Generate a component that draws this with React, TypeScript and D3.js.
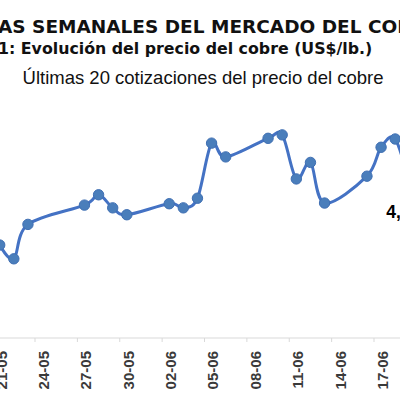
import React from "react";
import * as d3 from "d3";

const titleLine1 = "AS SEMANALES DEL MERCADO DEL COBRE";
const titleLine2 = "1: Evolución del precio del cobre (US$/lb.)";
const subtitle = "Últimas 20 cotizaciones del precio del cobre";

const dates = [
  "2025-05-21", "2025-05-22", "2025-05-23",
  "2025-05-27", "2025-05-28", "2025-05-29", "2025-05-30",
  "2025-06-02", "2025-06-03", "2025-06-04", "2025-06-05", "2025-06-06",
  "2025-06-09", "2025-06-10", "2025-06-11", "2025-06-12", "2025-06-13",
  "2025-06-16", "2025-06-17", "2025-06-18", "2025-06-19",
];
const prices = [
  4.285, 4.265, 4.315,
  4.343, 4.358, 4.339, 4.329,
  4.345, 4.339, 4.353, 4.433, 4.413,
  4.440, 4.445, 4.381, 4.405, 4.346,
  4.385, 4.427, 4.439, 4.372,
];
const tickLabels = ["21-05", "24-05", "27-05", "30-05", "02-06", "05-06", "08-06", "11-06", "14-06", "17-06", "20-06"];

const W = 400;
const H = 398;
const parse = d3.utcParse("%Y-%m-%d");
const DAY = 14.125;

export default function App() {
  const data = dates.map((d, i) => ({ date: parse(d) as Date, value: prices[i] }));
  const d0 = parse("2025-05-21") as Date;
  const d1 = parse("2025-06-18") as Date;
  const x = d3.scaleUtc().domain([d0, d1]).range([-0.3, -0.3 + 28 * DAY]);
  const y = d3.scaleLinear().domain([4.15, 4.5]).range([338, 97]);
  const line = d3
    .line<{ date: Date; value: number }>()
    .x((d) => x(d.date))
    .y((d) => y(d.value))
    .curve(d3.curveCatmullRom.alpha(0));
  const tickDates = tickLabels.map((t) => {
    const [dd, mm] = t.split("-");
    return parse(`2025-${mm}-${dd}`) as Date;
  });
  const last = data[data.length - 1];
  const fmt = (v: number) => v.toFixed(2).replace(".", ",");
  const axisY = 338;
  const blue = "#4472c4";

  return (
    <svg
      width={W}
      height={H}
      style={{ position: "fixed", left: 0, top: 0, background: "#fff" }}
      fontFamily="'DejaVu Sans', Verdana, sans-serif"
    >
      <rect x={0} y={0} width={W} height={H} fill="#fff" />
      <text x={-2} y={33} fontSize={18.5} fontWeight="bold" fill="#111">
        {titleLine1}
      </text>
      <text x={-2} y={54} fontSize={15.8} fontWeight="bold" fill="#111">
        {titleLine2}
      </text>
      <text
        x={203}
        y={84}
        fontSize={18.5}
        textAnchor="middle"
        fill="#111"
        fontFamily="'Liberation Sans', Arial, sans-serif"
      >
        {subtitle}
      </text>

      <line x1={0} x2={W} y1={axisY} y2={axisY} stroke="#d9d9d9" strokeWidth={1} />
      {tickDates.map((d, i) => (
        <g key={i}>
          <line
            x1={x(d) - DAY / 2}
            x2={x(d) - DAY / 2}
            y1={axisY}
            y2={axisY + 4}
            stroke="#d9d9d9"
          />
          <text
            transform={`translate(${x(d) + 1.5},${axisY + 13}) rotate(-90)`}
            textAnchor="end"
            dy="0.36em"
            fontSize={15}
            fontWeight="bold"
            fill="#3a3a3a"
            fontFamily="'Liberation Sans', Arial, sans-serif"
          >
            {tickLabels[i]}
          </text>
        </g>
      ))}

      <path d={line(data) || ""} fill="none" stroke={blue} strokeWidth={3} />
      {data.map((d, i) => (
        <circle
          key={i}
          cx={x(d.date)}
          cy={y(d.value)}
          r={5.2}
          fill="#4a7ebb"
          stroke="#3f6fb3"
          strokeWidth={1}
        />
      ))}
      <text
        x={x(last.date) - 23}
        y={218}
        fontSize={17.5}
        fontWeight="bold"
        fill="#000"
        fontFamily="'Liberation Sans', Arial, sans-serif"
      >
        {fmt(last.value)}
      </text>
    </svg>
  );
}
